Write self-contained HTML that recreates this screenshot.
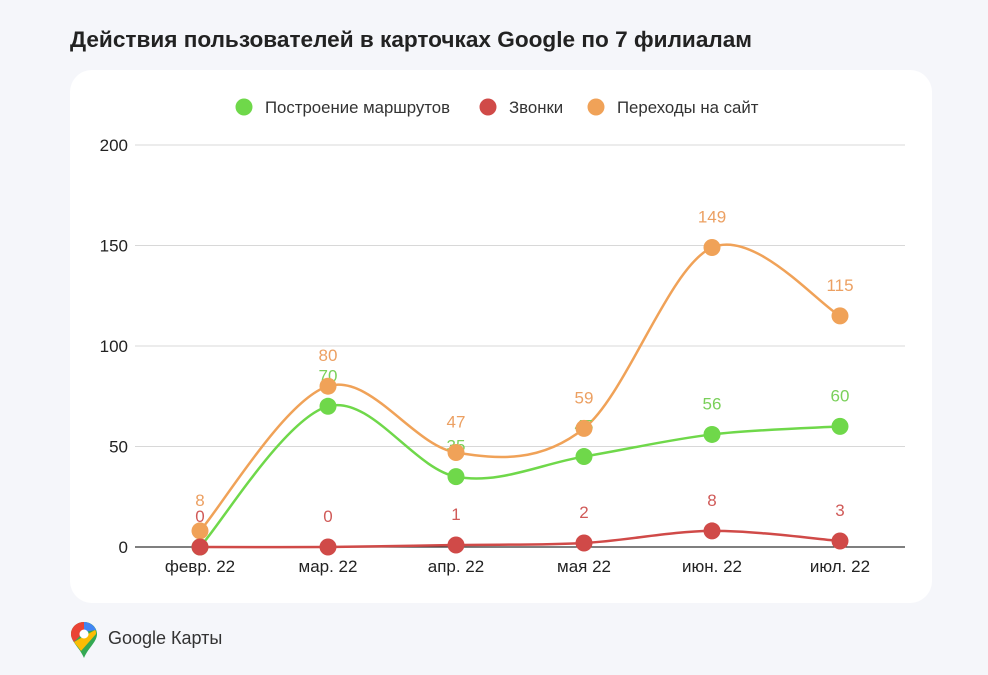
<!DOCTYPE html>
<html><head><meta charset="utf-8"><style>
body{margin:0;width:988px;height:675px;background:#f5f6fa;font-family:"Liberation Sans",sans-serif;overflow:hidden;position:relative}
.title{position:absolute;left:70px;top:27px;font-size:22.6px;font-weight:bold;color:#222}
.card{position:absolute;left:70px;top:70px;width:862px;height:533px;background:#fff;border-radius:22px}
.brand{position:absolute;left:108px;top:628px;font-size:18px;color:#333}
</style></head><body>
<div class="title">Действия пользователей в карточках Google по 7 филиалам</div>
<div class="card"></div>
<svg width="988" height="675" style="position:absolute;left:0;top:0" id="chart">
<g font-size="16.8" fill="#333">
<circle cx="244" cy="107" r="8.5" fill="#6fd84a"/><text x="265" y="113">Построение маршрутов</text>
<circle cx="488" cy="107" r="8.5" fill="#d04a48"/><text x="509" y="113">Звонки</text>
<circle cx="596" cy="107" r="8.5" fill="#f0a258"/><text x="617" y="113">Переходы на сайт</text>
</g>
<g id="grid"></g><g id="series"></g>
</svg>
<svg width="30" height="40" style="position:absolute;left:69px;top:620px">
<path d="M15 2C7 2 2 8 2 14c0 8 9 14 13 24 4-10 13-16 13-24C28 8 23 2 15 2z" fill="#34a853"/>
<path d="M15 2C7 2 2 8 2 14c0 3 1 5 3 8L15 12z" fill="#ea4335"/>
<path d="M15 2c5 0 10 3 12 8L15 12z" fill="#4285f4"/>
<path d="M5 22c2 3 5 6 7 9l15-17c0-2 0-3-1-4z" fill="#fbbc04"/>
<circle cx="15" cy="14" r="4.5" fill="#fff"/></svg>
<div class="brand">Google Карты</div>
<script>
const categories=["февр. 22","мар. 22","апр. 22","мая 22","июн. 22","июл. 22"];
const yTicks=[0,50,100,150,200];
const routes=[0,70,35,45,56,60];
const calls=[0,0,1,2,8,3];
const site=[8,80,47,59,149,115];
const NS="http://www.w3.org/2000/svg";
const x=i=>200+i*128, y=v=>547-v*(402/200);
function mk(t,a,p){const e=document.createElementNS(NS,t);for(const k in a)e.setAttribute(k,a[k]);p.appendChild(e);return e;}
const grid=document.getElementById('grid'), ser=document.getElementById('series');
yTicks.forEach(t=>{const l=mk('line',{x1:135,x2:905,y1:y(t),y2:y(t),stroke:t?'#d8d8d8':'#333','stroke-width':t?1:1.2},grid);

const tx=mk('text',{x:128,y:y(t)+6,'text-anchor':'end','font-size':17,fill:'#222'},grid);tx.textContent=t;
});
categories.forEach((c,i)=>{const tx=mk('text',{x:x(i),y:572,'text-anchor':'middle','font-size':17,fill:'#222'},grid);tx.textContent=c;
});
function path(vals){const p=vals.map((v,i)=>[x(i),y(v)]);let d=`M${p[0][0]},${p[0][1]}`;
for(let i=0;i<p.length-1;i++){const p0=p[i-1]||p[i],p1=p[i],p2=p[i+1],p3=p[i+2]||p2;
d+=` C${p1[0]+(p2[0]-p0[0])/6},${p1[1]+(p2[1]-p0[1])/6} ${p2[0]-(p3[0]-p1[0])/6},${p2[1]-(p3[1]-p1[1])/6} ${p2[0]},${p2[1]}`;}return d;}
const series=[["routes",routes,"#6fd84a","#7ad05a"],["site",site,"#f0a258","#eca062"],["calls",calls,"#d04a48","#d05a58"]];
series.forEach(([n,vals,col])=>{const pa=mk('path',{d:path(vals),fill:'none',stroke:col,'stroke-width':2.5},ser);
});
series.forEach(([n,vals,col,lc])=>{vals.forEach((v,i)=>{
const c=mk('circle',{cx:x(i),cy:y(v),r:8.5,fill:col},ser);
if(n==='routes'&&i===0)return;
const t=mk('text',{x:x(i),y:y(v)-25,'text-anchor':'middle','font-size':17,fill:lc},ser);t.textContent=v;
});});
</script>
</body></html>
